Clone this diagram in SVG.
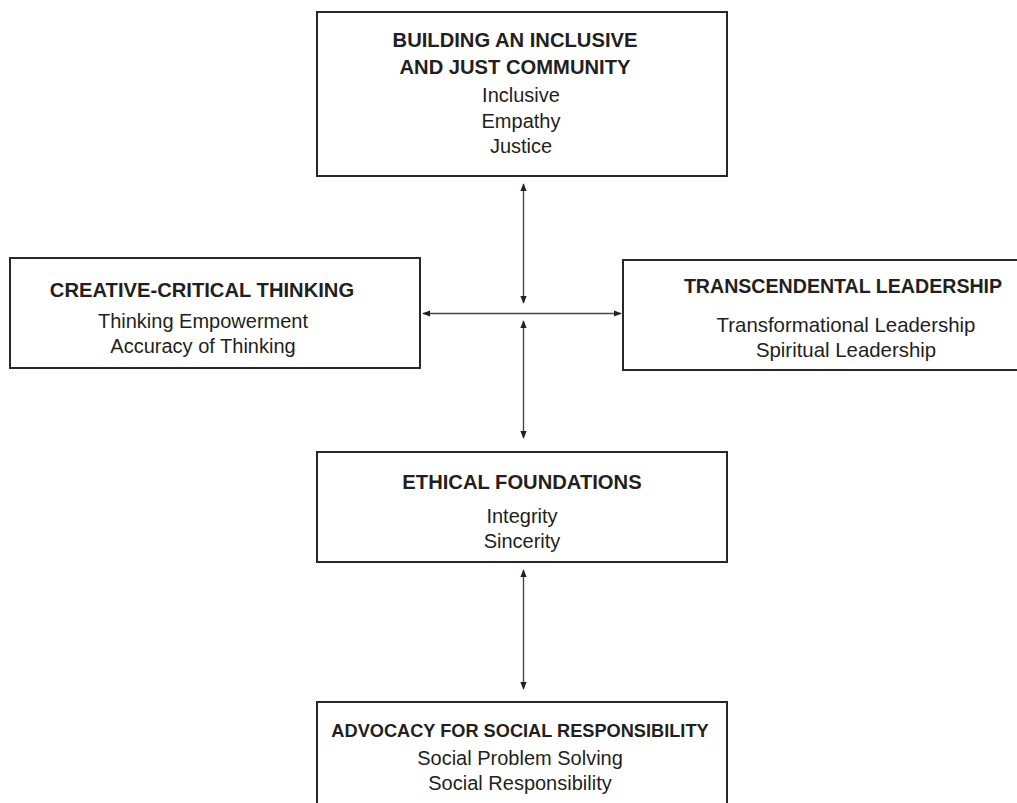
<svg xmlns="http://www.w3.org/2000/svg" width="1017" height="803" viewBox="0 0 1017 803">
<style>
.box{fill:#fff;stroke:#2b2627;stroke-width:2}
.t{font-family:"Liberation Sans",Arial,sans-serif;font-size:20.2px;font-weight:bold;fill:#231f20;text-anchor:middle}
.s{font-family:"Liberation Sans",Arial,sans-serif;font-size:20px;fill:#231f20;text-anchor:middle}
.c{stroke:#4a4546;stroke-width:1.4;fill:none;marker-start:url(#ah);marker-end:url(#ah)}
</style>
<defs>
<marker id="ah" viewBox="0 0 10 8" refX="9" refY="4" markerWidth="8" markerHeight="7" markerUnits="userSpaceOnUse" orient="auto-start-reverse">
<path d="M0,0 L10,4 L0,8 z" fill="#231f20"/>
</marker>
</defs>
<rect width="1017" height="803" fill="#fff"/>
<g id="n-community">
<rect class="box" x="317" y="12" width="410" height="164"/>
<text class="t" x="515" y="47">BUILDING AN INCLUSIVE</text>
<text class="t" x="515" y="74">AND JUST COMMUNITY</text>
<text class="s" x="521" y="102">Inclusive</text>
<text class="s" x="521" y="128">Empathy</text>
<text class="s" x="521" y="153">Justice</text>
</g>
<g id="n-creative">
<rect class="box" x="10" y="258" width="410" height="110"/>
<text class="t" x="202" y="297">CREATIVE-CRITICAL THINKING</text>
<text class="s" x="203" y="328">Thinking Empowerment</text>
<text class="s" x="203" y="353">Accuracy of Thinking</text>
</g>
<g id="n-transcendental">
<rect class="box" x="623" y="260" width="420" height="110"/>
<text class="t" x="843" y="293" style="font-size:19.6px">TRANSCENDENTAL LEADERSHIP</text>
<text class="s" x="846" y="332" style="font-size:20.4px">Transformational Leadership</text>
<text class="s" x="846" y="357" style="font-size:20.4px">Spiritual Leadership</text>
</g>
<g id="n-ethical">
<rect class="box" x="317" y="452" width="410" height="110"/>
<text class="t" x="522" y="489">ETHICAL FOUNDATIONS</text>
<text class="s" x="522" y="523">Integrity</text>
<text class="s" x="522" y="548">Sincerity</text>
</g>
<g id="n-advocacy">
<rect class="box" x="317" y="702" width="410" height="120"/>
<text class="t" x="520" y="737" style="font-size:18.2px">ADVOCACY FOR SOCIAL RESPONSIBILITY</text>
<text class="s" x="520" y="765">Social Problem Solving</text>
<text class="s" x="520" y="790">Social Responsibility</text>
</g>
<g id="connectors">
<line class="c" x1="523.5" y1="184" x2="523.5" y2="303"/>
<line class="c" x1="423" y1="313.5" x2="621" y2="313.5"/>
<line class="c" x1="523.5" y1="321" x2="523.5" y2="438"/>
<line class="c" x1="523.5" y1="570" x2="523.5" y2="689"/>
</g>
</svg>
